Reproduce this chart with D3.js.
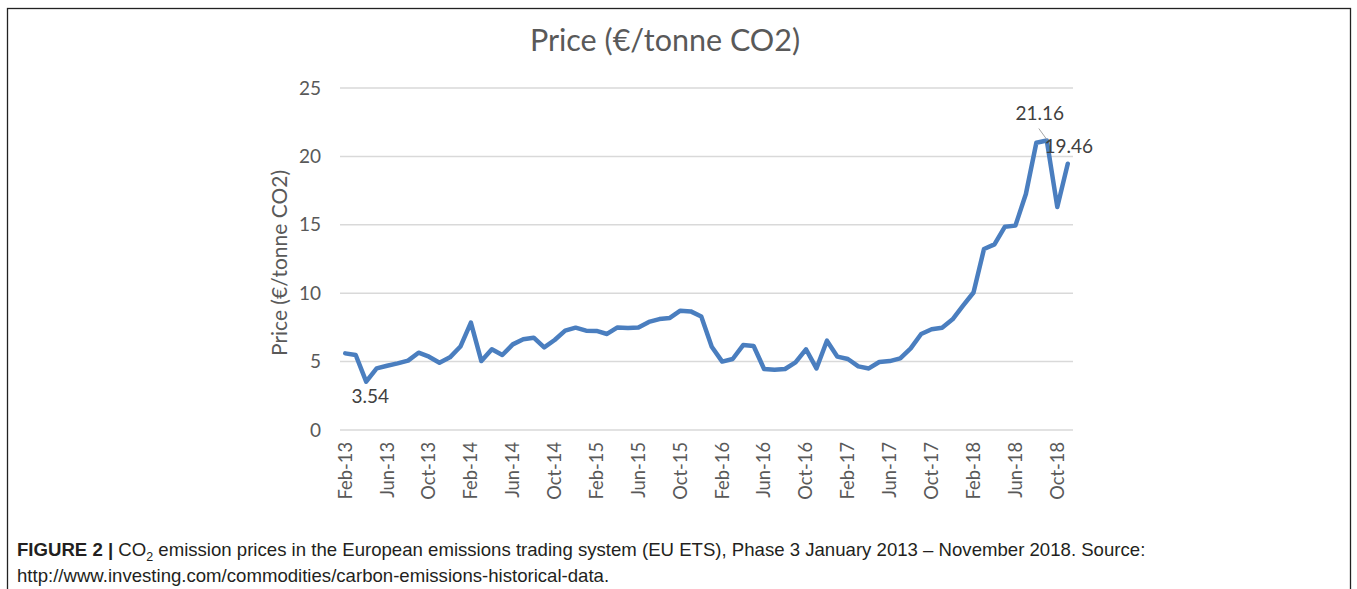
<!DOCTYPE html>
<html>
<head>
<meta charset="utf-8">
<script src="https://cdn.jsdelivr.net/npm/d3@7"></script>
<style>
  html, body { margin: 0; padding: 0; background: #fff; }
  svg { display: block; }
</style>
</head>
<body>
<svg id="chart" width="1357" height="589"></svg>
<script>
const categories = [
  "Feb-13","Mar-13","Apr-13","May-13","Jun-13","Jul-13","Aug-13","Sep-13","Oct-13","Nov-13","Dec-13",
  "Jan-14","Feb-14","Mar-14","Apr-14","May-14","Jun-14","Jul-14","Aug-14","Sep-14","Oct-14","Nov-14","Dec-14",
  "Jan-15","Feb-15","Mar-15","Apr-15","May-15","Jun-15","Jul-15","Aug-15","Sep-15","Oct-15","Nov-15","Dec-15",
  "Jan-16","Feb-16","Mar-16","Apr-16","May-16","Jun-16","Jul-16","Aug-16","Sep-16","Oct-16","Nov-16","Dec-16",
  "Jan-17","Feb-17","Mar-17","Apr-17","May-17","Jun-17","Jul-17","Aug-17","Sep-17","Oct-17","Nov-17","Dec-17",
  "Jan-18","Feb-18","Mar-18","Apr-18","May-18","Jun-18","Jul-18","Aug-18","Sep-18","Oct-18","Nov-18"
];
const prices = [
  5.60, 5.48, 3.54, 4.50, 4.70, 4.87, 5.07, 5.65, 5.36, 4.92, 5.31,
  6.10, 7.85, 5.04, 5.90, 5.48, 6.26, 6.63, 6.75, 6.04, 6.58, 7.26, 7.48,
  7.26, 7.24, 7.02, 7.50, 7.46, 7.50, 7.90, 8.11, 8.19, 8.72, 8.67, 8.30,
  6.09, 5.00, 5.19, 6.21, 6.14, 4.46, 4.41, 4.46, 4.94, 5.90, 4.50, 6.53,
  5.36, 5.19, 4.65, 4.50, 4.97, 5.04, 5.24, 5.97, 7.02, 7.36, 7.48, 8.09,
  9.09, 10.05, 13.23, 13.57, 14.86, 14.94, 17.25, 21.00, 21.16, 16.30, 19.46
];
const yTicks = [0, 5, 10, 15, 20, 25];
const labelledPoints = [
  { category: "Apr-13", value: 3.54, text: "3.54" },
  { category: "Sep-18", value: 21.16, text: "21.16" },
  { category: "Nov-18", value: 19.46, text: "19.46" }
];
const chartTitle = "Price (€/tonne CO2)";
const yAxisTitle = "Price (€/tonne CO2)";

const svg = d3.select("#chart");
const font = "Lato, 'Open Sans', sans-serif";
const textColor = "#595959";

// frame
svg.append("rect").attr("x", 7.5).attr("y", 8.5).attr("width", 1343).attr("height", 600)
  .attr("fill", "none").attr("stroke", "#222").attr("stroke-width", 1.3);

const x = d3.scaleBand().domain(categories).range([340, 1073]);
const y = d3.scaleLinear().domain([0, 25]).range([430, 88]);
const cx = c => x(c) + x.bandwidth() / 2;

// gridlines
svg.append("g").selectAll("line").data(yTicks).join("line")
  .attr("x1", 340).attr("x2", 1073)
  .attr("y1", d => y(d)).attr("y2", d => y(d))
  .attr("stroke", "#d9d9d9").attr("stroke-width", 1.5);

// y axis
const yAxis = svg.append("g").attr("transform", "translate(340,0)")
  .call(d3.axisLeft(y).tickValues(yTicks).tickSize(0).tickPadding(19));
yAxis.select(".domain").remove();
yAxis.selectAll("text").attr("font-family", font).attr("font-size", 19).attr("fill", textColor);

// x axis
const xAxis = svg.append("g").attr("transform", "translate(0,430)")
  .call(d3.axisBottom(x).tickValues(categories.filter((c, i) => i % 4 === 0)).tickSize(0));
xAxis.select(".domain").remove();
xAxis.selectAll("text")
  .attr("font-family", font).attr("font-size", 18.3).attr("fill", textColor)
  .attr("transform", "rotate(-90)")
  .attr("text-anchor", "end")
  .attr("x", -12).attr("y", 0).attr("dy", "0.35em");

// line
svg.append("path").datum(prices)
  .attr("d", d3.line().x((d, i) => cx(categories[i])).y(d => y(d)))
  .attr("fill", "none").attr("stroke", "#4a7ebf").attr("stroke-width", 4.5)
  .attr("stroke-linejoin", "round").attr("stroke-linecap", "round");

// data labels
const lbl = svg.append("g").attr("font-family", font).attr("font-size", 19).attr("fill", "#404040");
const p0 = labelledPoints[0], p1 = labelledPoints[1], p2 = labelledPoints[2];
lbl.append("text").attr("x", cx(p0.category) + 4).attr("y", y(p0.value) + 21)
  .attr("text-anchor", "middle").text(p0.text);
lbl.append("text").attr("x", cx(p1.category) - 7).attr("y", y(p1.value) - 21)
  .attr("text-anchor", "middle").text(p1.text);
lbl.append("text").attr("x", cx(p2.category) + 1).attr("y", y(p2.value) - 11)
  .attr("text-anchor", "middle").text(p2.text);
svg.append("line")
  .attr("x1", cx(p1.category) - 8).attr("y1", y(p1.value) - 12)
  .attr("x2", cx(p1.category)).attr("y2", y(p1.value) - 1)
  .attr("stroke", "#a6a6a6").attr("stroke-width", 1);

// titles
svg.append("text").attr("x", 665).attr("y", 51).attr("text-anchor", "middle")
  .attr("font-family", font).attr("font-size", 30.5).attr("fill", textColor).text(chartTitle);
svg.append("text").attr("transform", "translate(287,263) rotate(-90)").attr("text-anchor", "middle")
  .attr("font-family", font).attr("font-size", 21).attr("fill", textColor).text(yAxisTitle);

// caption
const cap = svg.append("g").attr("font-family", "'Liberation Sans', Arial, sans-serif").attr("font-size", 18.6).attr("fill", "#231f20");
const line1 = cap.append("text").attr("x", 17).attr("y", 556);
line1.append("tspan").attr("font-weight", "bold").text("FIGURE 2 | ");
line1.append("tspan").text("CO");
line1.append("tspan").attr("font-size", 12.5).attr("dy", 5).text("2");
line1.append("tspan").attr("dy", -5).text(" emission prices in the European emissions trading system (EU ETS), Phase 3 January 2013 \u2013 November 2018. Source:");
cap.append("text").attr("x", 17).attr("y", 582).text("http://www.investing.com/commodities/carbon-emissions-historical-data.");
</script>
</body>
</html>
